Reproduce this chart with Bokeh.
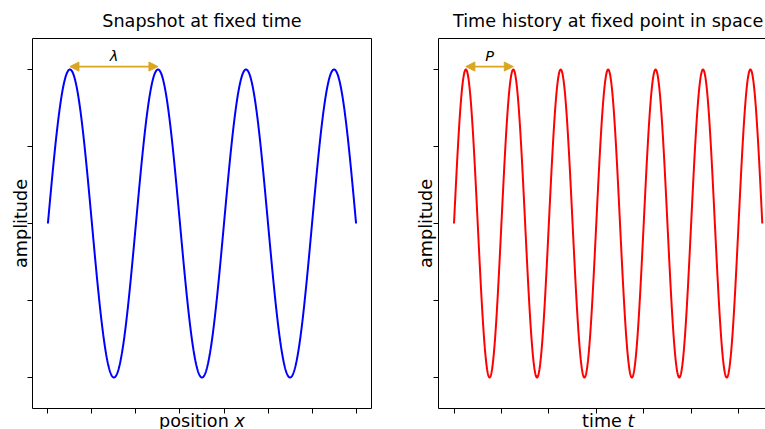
import numpy as np
from bokeh.plotting import figure
from bokeh.layouts import row
from bokeh.models import (Label, Arrow, NormalHead, LinearAxis, FixedTicker,
                          Range1d, CustomJSTickFormatter)
from bokeh.embed import file_html
from bokeh.resources import INLINE

# ---- data / content ----
titles = ["Snapshot at fixed time", "Time history at fixed point in space"]
xlabels = [("position", "x"), ("time", "t")]
ylabel = "amplitude"
marks = ["λ", "P"]
wavelength = 1.0
period = 1.0
n_wavelengths = 3.5
n_periods = 6.5
amplitude = 1.0
x_ticks = [0, 0.5, 1, 1.5, 2, 2.5, 3, 3.5]
t_ticks = [0, 1, 2, 3, 4, 5, 6]
y_ticks = [-1, -0.5, 0, 0.5, 1]
y_limits = (-1.2, 1.2)
x_limits = (-0.175, 3.675)
t_limits = (-0.325, 6.825)
line_colors = ["blue", "red"]
arrow_color = "#DAA520"
arrow_span = [0.25, 1.25]  # first peak to second peak
arrow_level = 1.019

x = np.linspace(0, n_wavelengths * wavelength, 1200)
y_space = amplitude * np.sin(2 * np.pi * x / wavelength)
t = np.linspace(0, n_periods * period, 1200)
y_time = amplitude * np.sin(2 * np.pi * t / period)

FONT = "DejaVu Sans"
FS = 17.6
FS_MARK = 14.5
H = 429
Y0_PX = 223.0      # pixel row of amplitude 0
Y_SCALE = 154.0    # pixels per amplitude unit
SHIFT = 0.3125     # baseline correction, in em


def py(px, fs=FS):
    """pixel row of a text baseline -> data y"""
    return (Y0_PX - (px - SHIFT * fs)) / Y_SCALE


def empty_fmt():
    return CustomJSTickFormatter(code="return ''")


def spine(loc, bounds, ticks):
    return LinearAxis(ticker=FixedTicker(ticks=ticks), formatter=empty_fmt(),
                      fixed_location=loc, bounds=bounds,
                      major_tick_out=5 if ticks else 0, major_tick_in=0,
                      minor_tick_out=0, minor_tick_in=0,
                      axis_line_color="black", axis_line_width=1,
                      major_tick_line_color="black", major_label_standoff=0,
                      major_label_text_font_size="0px")


def make_panel(xs, ys, color, lims, xt, width, x0_px, x_scale, title, xlab,
               mark, ylab_px, xlab_offs):
    xr = Range1d(-x0_px / x_scale, (width - x0_px) / x_scale)
    yr = Range1d(-(H - Y0_PX) / Y_SCALE, Y0_PX / Y_SCALE)
    p = figure(width=width, height=H, x_range=xr, y_range=yr,
               x_axis_type=None, y_axis_type=None,
               output_backend="svg", toolbar_location=None,
               min_border=0, min_border_left=0, min_border_right=0,
               min_border_top=0, min_border_bottom=0)
    p.grid.visible = False
    p.outline_line_color = None
    p.background_fill_color = "white"
    p.border_fill_color = "white"

    p.add_layout(spine(y_limits[0], lims, xt), "below")
    p.add_layout(spine(y_limits[1], lims, []), "above")
    p.add_layout(spine(lims[0], y_limits, y_ticks), "left")
    p.add_layout(spine(lims[1], y_limits, []), "right")

    p.line(xs, ys, line_color=color, line_width=2)

    c = arrow_color
    p.add_layout(Arrow(start=NormalHead(size=9, fill_color=c, line_color=c),
                       end=NormalHead(size=9, fill_color=c, line_color=c),
                       x_start=arrow_span[0], x_end=arrow_span[1],
                       y_start=arrow_level, y_end=arrow_level,
                       line_color=c, line_width=1.8))
    p.add_layout(Label(x=sum(arrow_span) / 2, y=py(60, FS_MARK), text=mark,
                       text_align="center", text_baseline="alphabetic",
                       text_font=FONT, text_font_style="italic",
                       text_font_size=f"{FS_MARK}px", text_color="black"))
    xc = sum(lims) / 2
    # title
    p.add_layout(Label(x=xc, y=py(25.7), text=title,
                       text_align="center", text_baseline="alphabetic",
                       text_font=FONT, text_font_size=f"{FS}px",
                       text_color="black"))
    # x label: normal word + italic symbol
    yl = py(426)
    p.add_layout(Label(x=xc, y=yl, text=xlab[0], text_align="right",
                       x_offset=xlab_offs[0], text_baseline="alphabetic",
                       text_font=FONT, text_font_size=f"{FS}px",
                       text_color="black"))
    p.add_layout(Label(x=xc, y=yl, text=xlab[1], text_align="left",
                       x_offset=xlab_offs[1], text_baseline="alphabetic",
                       text_font=FONT, text_font_style="italic",
                       text_font_size=f"{FS}px", text_color="black"))
    # y label (rotated: baseline correction goes along x)
    p.add_layout(Label(x=(ylab_px - SHIFT * FS - x0_px) / x_scale, y=0,
                       text=ylabel, angle=np.pi / 2, text_align="center",
                       text_baseline="alphabetic", text_font=FONT,
                       text_font_size=f"{FS}px", text_color="black"))
    return p


p1 = make_panel(x, y_space, line_colors[0], x_limits, x_ticks, 400, 47.4, 88.05,
                titles[0], xlabels[0], marks[0], ylab_px=26,
                xlab_offs=(26.8, 32.4))
p2 = make_panel(t, y_time, line_colors[1], t_limits, t_ticks, 365, 53.5, 47.43,
                titles[1], xlabels[1], marks[1], ylab_px=31,
                xlab_offs=(13.7, 19.3))

layout = row(p1, p2, spacing=0)
open("out.html", "w").write(file_html(layout, INLINE))
